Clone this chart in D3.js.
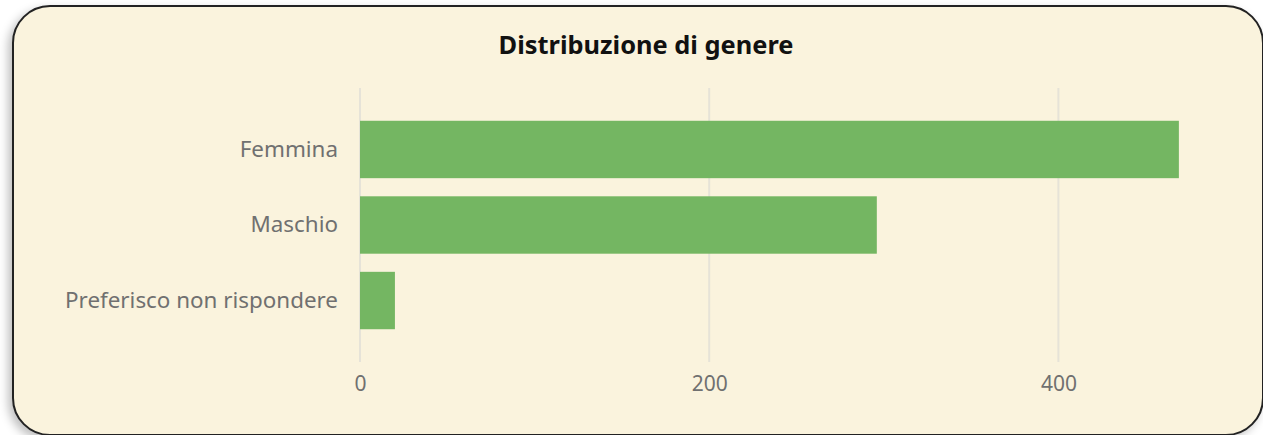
<!DOCTYPE html>
<html>
<head>
<meta charset="utf-8">
<script src="https://cdn.jsdelivr.net/npm/d3@7"></script>
<style>
  body { margin: 0; background: #ffffff; font-family: "Noto Sans", "Open Sans", sans-serif; }
  #card {
    position: absolute; left: 12px; top: 5px; width: 1248px; height: 427px;
    background: #faf3dd; border: 2px solid #222; border-radius: 38px;
    box-shadow: -4px 4px 10px rgba(0,0,0,0.25);
    overflow: hidden;
  }
</style>
</head>
<body>
<div id="card"></div>
<script>
const categories = ["Femmina", "Maschio", "Preferisco non rispondere"]
const values = [469, 296, 20]
const tickValues = [0, 200, 400]

const width = 1248
const height = 427
// card sits at left 14, top 7 (inside border) -> chart coordinates offset
const ox = 14, oy = 7

const svg = d3.select("#card")
  .append("svg")
    .attr("width", width)
    .attr("height", height)
  .append("g")
    .attr("transform", "translate(" + (-ox) + "," + (-oy) + ")")

svg.append("text")
  .attr("x", 646)
  .attr("y", 54)
  .attr("text-anchor", "middle")
  .attr("font-size", 25.4)
  .attr("font-weight", "bold")
  .attr("fill", "#111")
  .text("Distribuzione di genere")

var x = d3.scaleLinear()
  .domain([0, 500])
  .range([360, 1233])

var y = d3.scaleBand()
  .domain(categories)
  .range([88, 362])
  .paddingInner(0.24)
  .paddingOuter(0.434)

// grid lines
svg.append("g")
  .selectAll("line")
  .data(tickValues)
  .join("line")
    .attr("x1", d => x(d))
    .attr("x2", d => x(d))
    .attr("y1", 88)
    .attr("y2", 362)
    .attr("stroke", "#e6e3d8")
    .attr("stroke-width", 2)

// x axis
const xAxis = svg.append("g")
  .attr("transform", "translate(0,372)")
  .call(d3.axisBottom(x).tickValues(tickValues).tickSize(0).tickPadding(4))
xAxis.select(".domain").remove()
xAxis.selectAll("text")
  .attr("font-size", 21)
  .attr("font-family", "Noto Sans, Open Sans, sans-serif")
  .attr("fill", "#707070")

// y axis
const yAxis = svg.append("g")
  .attr("transform", "translate(338,0)")
  .call(d3.axisLeft(y).tickSize(0).tickPadding(0))
yAxis.select(".domain").remove()
yAxis.selectAll("text")
  .attr("font-size", 22.4)
  .attr("font-family", "Noto Sans, Open Sans, sans-serif")
  .attr("fill", "#707070")

// bars
svg.append("g")
  .selectAll("rect")
  .data(categories)
  .join("rect")
    .attr("x", x(0))
    .attr("y", d => y(d))
    .attr("width", (d, i) => x(values[i]) - x(0))
    .attr("height", y.bandwidth())
    .attr("fill", "#74b662")
</script>
</body>
</html>
